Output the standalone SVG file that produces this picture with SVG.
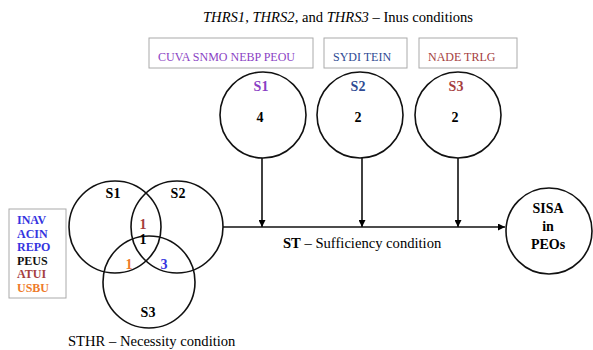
<svg xmlns="http://www.w3.org/2000/svg" width="593" height="350" viewBox="0 0 593 350">
<defs>
<marker id="ah" viewBox="0 0 10 10" refX="10" refY="5" markerWidth="7" markerHeight="7" markerUnits="userSpaceOnUse" orient="auto">
<path d="M0,0 L10,5 L0,10 z" fill="#000"/>
</marker>
<style>
text{font-family:"Liberation Serif","Times New Roman",serif;}
.c{fill:none;stroke:#111;stroke-width:1.6;}
.box{fill:#fff;stroke:#aaa;stroke-width:1;}
.bt{font-size:12px;}
.b{font-weight:bold;}
.lbl{font-size:14px;font-weight:bold;text-anchor:middle;}
.num{font-size:14px;font-weight:bold;text-anchor:middle;}
.ln{stroke:#111;stroke-width:1.6;fill:none;}
.cap{font-size:14.6px;}
.pur{fill:#8A3FC4;}
.blu{fill:#2F4A93;}
.red{fill:#A53E3E;}
.lblue{fill:#3434E0;}
.org{fill:#EE7A2A;}
</style>
</defs>
<rect width="593" height="350" fill="#fff"/>
<text class="cap" x="338" y="22" text-anchor="middle"><tspan font-style="italic">THRS1</tspan>, <tspan font-style="italic">THRS2</tspan>, and <tspan font-style="italic">THRS3</tspan> – Inus conditions</text>

<g id="box1"><rect class="box" x="149" y="38" width="164" height="30"/><text class="bt pur" x="158" y="61">CUVA SNMO NEBP PEOU</text></g>
<g id="box2"><rect class="box" x="324" y="38" width="83" height="30"/><text class="bt blu" x="333" y="61">SYDI TEIN</text></g>
<g id="box3"><rect class="box" x="419" y="38" width="98" height="30"/><text class="bt red" x="428" y="61">NADE TRLG</text></g>

<g id="S1top"><circle class="c" cx="263" cy="115" r="43"/><text class="lbl pur" x="261" y="91">S1</text><text class="num" x="260" y="122">4</text></g>
<g id="S2top"><circle class="c" cx="360" cy="115" r="43"/><text class="lbl blu" x="358" y="91">S2</text><text class="num" x="358" y="122">2</text></g>
<g id="S3top"><circle class="c" cx="458" cy="115" r="43"/><text class="lbl red" x="456" y="91">S3</text><text class="num" x="455" y="122">2</text></g>

<g id="venn">
<circle class="c" cx="115" cy="227" r="46"/>
<circle class="c" cx="177" cy="227" r="46"/>
<circle class="c" cx="149" cy="282" r="46"/>
<text class="lbl" x="113" y="198">S1</text>
<text class="lbl" x="178" y="198">S2</text>
<text class="lbl" x="148" y="317">S3</text>
<text class="num red" x="143" y="229">1</text>
<text class="num" x="143" y="244">1</text>
<text class="num org" x="129" y="269">1</text>
<text class="num lblue" x="164" y="269">3</text>
</g>

<g id="legend">
<rect class="box" x="9" y="209" width="57" height="89"/>
<text class="bt b lblue" x="17" y="224">INAV</text>
<text class="bt b lblue" x="17" y="238">ACIN</text>
<text class="bt b lblue" x="17" y="251">REPO</text>
<text class="bt b" x="17" y="265" fill="#111">PEUS</text>
<text class="bt b red" x="17" y="278">ATUI</text>
<text class="bt b org" x="17" y="292">USBU</text>
</g>

<g id="SISA"><circle class="c" cx="549" cy="231" r="43"/>
<text class="lbl" x="548" y="213">SISA</text>
<text class="lbl" x="548" y="231">in</text>
<text class="lbl" x="548" y="249">PEOs</text></g>

<g id="connectors">
<line class="ln" x1="223" y1="227" x2="505" y2="227" marker-end="url(#ah)"/>
<line class="ln" x1="262" y1="158" x2="262" y2="227" marker-end="url(#ah)"/>
<line class="ln" x1="362" y1="158" x2="362" y2="227" marker-end="url(#ah)"/>
<line class="ln" x1="458" y1="158" x2="458" y2="227" marker-end="url(#ah)"/>
</g>

<text class="cap" x="283" y="248"><tspan font-weight="bold">ST</tspan> – Sufficiency condition</text>
<text class="cap" x="68" y="346">STHR – Necessity condition</text>
</svg>
